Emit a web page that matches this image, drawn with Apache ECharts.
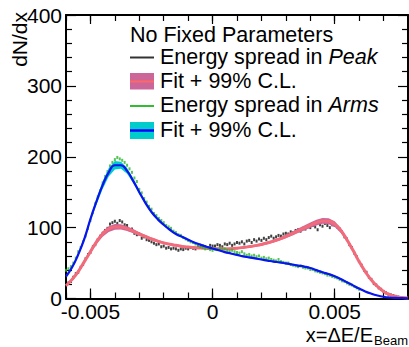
<!DOCTYPE html>
<html>
<head>
<meta charset="utf-8">
<script src="https://cdn.jsdelivr.net/npm/echarts@6/dist/echarts.min.js"></script>
<style>
html,body{margin:0;padding:0;background:#fff;}
#chart{width:409px;height:347px;}
</style>
</head>
<body>
<div id="chart"></div>
<script>
// ---------------- DATA ----------------
const xMin = -0.006, xMax = 0.008;
const xMajorTicks = [-0.005, 0, 0.005];
const xTickLabels = ['-0.005', '0', '0.005'];
const yTickLabels = ['0', '100', '200', '300', '400'];

// histogram bins (bin width 0.0001)
const binStart = -0.006;
const binWidth = 0.0001;

// Energy spread in Peak (black points), from x = -0.0060 to 0.0076
const peakCounts = [
  19, 22, 24, 30, 35, 37, 44, 48, 56, 62, 65, 73, 76,
  83, 88, 92, 96, 99,
  105, 107, 109, 106, 110, 108, 104, 103,
  97, 98, 92, 90, 91, 85, 87, 83, 82,
  80, 78, 76, 77, 73, 74, 71, 72, 70, 71, 70, 68, 70, 69, 71,
  70, 72, 71, 70, 73, 72, 74, 73, 72, 75, 74,
  74, 76, 75, 73, 77, 76, 78, 75, 77, 79,
  78, 80, 77, 81, 82, 79, 83, 81, 84, 82,
  85, 83, 86, 88, 85, 87, 89, 88, 91, 92,
  91, 94, 93, 96, 97, 95, 99, 98, 101, 100,
  103, 101, 97, 104, 102, 106, 103, 100, 104,
  103, 101, 98, 94, 87, 84, 76, 72, 64, 59, 52,
  47, 40, 37, 30, 27, 21, 19, 15, 13, 10,
  8, 6, 5, 4, 3, 2
];

// Energy spread in Arms (green points), from x = -0.0060 to 0.0060
const armsCounts = [
  40, 42, 45, 50, 57, 66, 72, 80, 88, 99,
  110, 121, 134, 143, 152, 163, 172, 179, 187, 192,
  196, 199, 197, 195, 192, 188, 183, 178, 170, 165,
  154, 149, 141, 136, 130, 126, 120, 117, 113, 110,
  107, 103, 101, 99, 95, 93, 90, 89, 86, 84,
  82, 80, 79, 77, 75, 73, 72, 70, 71, 69,
  68, 70, 69, 71, 69, 70, 68, 67, 68, 66,
  65, 64, 66, 63, 61, 62, 60, 61, 59, 60,
  57, 58, 56, 57, 55, 54, 53, 55, 52, 51,
  50, 50, 48, 47, 46, 45, 46, 44, 43, 43,
  41, 41, 39, 38, 37, 36, 35, 33, 33, 31,
  30, 29, 27, 25, 24, 22, 20, 19, 17, 15, 13
];

// fit curves sampled at these x values
const fitX = [
  -0.006, -0.00575, -0.0055, -0.00525, -0.005, -0.00475, -0.0045, -0.00425, -0.004, -0.00375,
  -0.0035, -0.00325, -0.003, -0.00275, -0.0025, -0.00225, -0.002, -0.00175, -0.0015, -0.00125,
  -0.001, -0.00075, -0.0005, -0.00025, 0, 0.00025, 0.0005, 0.00075, 0.001, 0.00125,
  0.0015, 0.00175, 0.002, 0.00225, 0.0025, 0.00275, 0.003, 0.00325, 0.0035, 0.00375,
  0.004, 0.00425, 0.0045, 0.00475, 0.005, 0.00525, 0.0055, 0.00575, 0.006, 0.00625,
  0.0065, 0.00675, 0.007, 0.00725, 0.0075, 0.00775, 0.008
];
const peakFit = [
  18, 27, 38, 52, 66, 80, 91, 98, 101, 101,
  98.5, 95, 91, 87.5, 84, 81, 78.5, 76.5, 75, 73.5,
  72.5, 71.8, 71.2, 70.8, 70.5, 70.2, 70, 70.3, 71, 72,
  73.2, 74.6, 76.3, 78.5, 81, 84, 87.5, 91.5, 95.5, 99.5,
  103.5, 107, 109.5, 109, 105, 96, 83, 68, 52, 38,
  26, 17, 10, 5.5, 2.8, 1.3, 0.6
];
// half width of the 99% C.L. band around the peak fit
const peakCL = [
  1.5, 1.8, 2.2, 2.6, 3, 3.4, 3.8, 4, 4, 3.8,
  3.4, 3, 2.6, 2.2, 2, 1.8, 1.6, 1.5, 1.4, 1.4,
  1.3, 1.3, 1.3, 1.3, 1.3, 1.3, 1.3, 1.3, 1.4, 1.4,
  1.5, 1.6, 1.7, 1.8, 2, 2.2, 2.5, 2.8, 3.1, 3.4,
  3.7, 4, 4.2, 4.2, 4, 3.6, 3.2, 2.8, 2.4, 2,
  1.6, 1.2, 0.9, 0.6, 0.4, 0.3, 0.2
];
const armsFit = [
  31, 44, 62, 84, 112, 137, 160, 178, 188, 188,
  180, 166, 150, 135, 122, 112, 104, 97, 91, 87,
  83, 79, 76, 73, 70.5, 68, 65.5, 63.5, 61.5, 59.5,
  58, 56.5, 55, 53.5, 52, 51, 49.5, 48, 46.5, 45,
  43, 40, 37, 34.5, 31.5, 27.5, 23, 18.5, 14, 10,
  6.8, 4.3, 2.5, 1.4, 0.8, 0.4, 0.2
];
// half width of the 99% C.L. band around the arms fit
const armsCL = [
  1.5, 2, 2.5, 3, 3.5, 4.5, 5.5, 6, 6, 5,
  4, 3.2, 2.6, 2.2, 1.9, 1.7, 1.5, 1.4, 1.3, 1.2,
  1.2, 1.1, 1.1, 1.1, 1.1, 1.1, 1.1, 1.1, 1.1, 1.1,
  1.1, 1.1, 1.1, 1.1, 1.1, 1.1, 1.1, 1.1, 1.1, 1.1,
  1.1, 1.1, 1.1, 1.1, 1.1, 1, 1, 0.9, 0.8, 0.7,
  0.6, 0.5, 0.4, 0.3, 0.2, 0.1, 0.1
];

// ---------------- BUILD ----------------
const FONT = '"Liberation Sans", Arial, Helvetica, sans-serif';
const pts = (arr) => arr.map((v, i) => [+(binStart + i * binWidth).toFixed(5), v]);
const curve = (arr) => fitX.map((x, i) => [x, arr[i]]);

function bandSeries(fit, cl, color, z) {
  return {
    type: 'custom', z: z, silent: true,
    data: [[0, 0]],
    renderItem: function (params, api) {
      const up = fitX.map((x, i) => api.coord([x, fit[i] + cl[i]]));
      const lo = fitX.map((x, i) => api.coord([x, Math.max(0, fit[i] - cl[i])])).reverse();
      return {type: 'polygon', shape: {points: up.concat(lo)}, style: {fill: color}};
    }
  };
}

const chart = echarts.init(document.getElementById('chart'), null, {renderer: 'svg'});

const xLabelFmt = (v) => {
  for (let i = 0; i < xMajorTicks.length; i++) {
    if (Math.abs(v - xMajorTicks[i]) < 1e-9) return xTickLabels[i];
  }
  return '';
};

const frameLine = {show: true, onZero: false, lineStyle: {color: '#000', width: 2}};
const xCommon = {type: 'value', min: xMin, max: xMax, splitLine: {show: false}};
const TF = 21.5;

const option = {
  animation: false,
  backgroundColor: '#fff',
  grid: {left: 66, right: 1, top: 15, bottom: 48.5, containLabel: false},
  xAxis: [
    Object.assign({}, xCommon, {
      position: 'bottom', interval: 0.001,
      axisLine: frameLine,
      axisTick: {inside: true, length: 6, lineStyle: {color: '#000', width: 1.2}},
      axisLabel: {customValues: xMajorTicks, formatter: xLabelFmt, fontSize: 21, fontFamily: FONT, color: '#000', margin: 2}
    }),
    Object.assign({}, xCommon, {
      position: 'bottom',
      axisLine: {show: false, onZero: false},
      axisTick: {inside: true, length: 10, customValues: xMajorTicks, lineStyle: {color: '#000', width: 1.2}},
      axisLabel: {show: false}
    }),
    Object.assign({}, xCommon, {
      position: 'top', interval: 0.001,
      axisLine: frameLine,
      axisTick: {inside: true, length: 6, lineStyle: {color: '#000', width: 1.2}},
      axisLabel: {show: false}
    }),
    Object.assign({}, xCommon, {
      position: 'top',
      axisLine: {show: false, onZero: false},
      axisTick: {inside: true, length: 9, customValues: xMajorTicks, lineStyle: {color: '#000', width: 1.2}},
      axisLabel: {show: false}
    })
  ],
  yAxis: [
    {
      type: 'value', min: 0, max: 400, interval: 100, position: 'left',
      axisLine: frameLine,
      axisTick: {inside: true, length: 10, lineStyle: {color: '#000', width: 1.2}},
      minorTick: {show: true, splitNumber: 5, length: 6, lineStyle: {color: '#000', width: 1.2}},
      axisLabel: {fontSize: 21, fontFamily: FONT, color: '#000', margin: 4,
        formatter: (v) => yTickLabels[Math.round(v / 100)]},
      splitLine: {show: false}, minorSplitLine: {show: false}
    },
    {
      type: 'value', min: 0, max: 400, interval: 100, position: 'right',
      axisLine: frameLine,
      axisTick: {inside: true, length: 10, lineStyle: {color: '#000', width: 1.2}},
      minorTick: {show: true, splitNumber: 5, length: 6, lineStyle: {color: '#000', width: 1.2}},
      axisLabel: {show: false},
      splitLine: {show: false}, minorSplitLine: {show: false}
    }
  ],
  series: [
    {
      name: 'Energy spread in Peak', type: 'scatter', data: pts(peakCounts),
      symbol: 'rect', symbolSize: [2, 3], itemStyle: {color: '#111'}, silent: true, z: 2
    },
    bandSeries(peakFit, peakCL, '#cc6699', 3),
    {
      name: 'Peak fit', type: 'line', data: curve(peakFit), smooth: true,
      symbol: 'none', lineStyle: {color: '#f26b7a', width: 3}, silent: true, z: 4
    },
    {
      name: 'Energy spread in Arms', type: 'scatter', data: pts(armsCounts),
      symbol: 'rect', symbolSize: [2, 3], itemStyle: {color: '#2cb52c'}, silent: true, z: 5
    },
    bandSeries(armsFit, armsCL, '#00cccc', 6),
    {
      name: 'Arms fit', type: 'line', data: curve(armsFit), smooth: true,
      symbol: 'none', lineStyle: {color: '#0a14ee', width: 2.2}, silent: true, z: 7
    }
  ],
  graphic: [
    {type: 'text', x: 19, y: 12, rotation: Math.PI / 2,
      style: {text: 'dN/dx', font: '21px ' + FONT, fill: '#000', align: 'right', verticalAlign: 'middle'}},
    {type: 'text', x: 373, y: 335,
      style: {text: 'x=ΔE/E', font: '20px ' + FONT, fill: '#000', align: 'right', verticalAlign: 'middle'}},
    {type: 'text', x: 374, y: 340,
      style: {text: 'Beam', font: '13px ' + FONT, fill: '#000', align: 'left', verticalAlign: 'middle'}},

    {type: 'text', x: 130, y: 35,
      style: {text: 'No Fixed Parameters', font: TF + 'px ' + FONT, fill: '#000', align: 'left', verticalAlign: 'middle'}},

    {type: 'line', shape: {x1: 130, y1: 57.5, x2: 154, y2: 57.5}, style: {stroke: '#333', lineWidth: 2}},
    {type: 'text', x: 160, y: 57,
      style: {text: 'Energy spread in {i|Peak}', font: TF + 'px ' + FONT, fill: '#000', align: 'left', verticalAlign: 'middle',
        rich: {i: {fontStyle: 'italic', fontSize: TF, fontFamily: FONT, fill: '#000'}}}},

    {type: 'rect', shape: {x: 130, y: 73, width: 24, height: 16.5}, style: {fill: '#cc6699'}},
    {type: 'line', shape: {x1: 130, y1: 81.5, x2: 154, y2: 81.5}, style: {stroke: '#ff6666', lineWidth: 2}},
    {type: 'text', x: 160, y: 81,
      style: {text: 'Fit + 99% C.L.', font: TF + 'px ' + FONT, fill: '#000', align: 'left', verticalAlign: 'middle'}},

    {type: 'line', shape: {x1: 130, y1: 106, x2: 154, y2: 106}, style: {stroke: '#33bb33', lineWidth: 2}},
    {type: 'text', x: 160, y: 105,
      style: {text: 'Energy spread in {i|Arms}', font: TF + 'px ' + FONT, fill: '#000', align: 'left', verticalAlign: 'middle',
        rich: {i: {fontStyle: 'italic', fontSize: TF, fontFamily: FONT, fill: '#000'}}}},

    {type: 'rect', shape: {x: 130, y: 122, width: 24, height: 17}, style: {fill: '#00cccc'}},
    {type: 'line', shape: {x1: 130, y1: 130.5, x2: 154, y2: 130.5}, style: {stroke: '#0000ff', lineWidth: 2.5}},
    {type: 'text', x: 160, y: 130,
      style: {text: 'Fit + 99% C.L.', font: TF + 'px ' + FONT, fill: '#000', align: 'left', verticalAlign: 'middle'}}
  ]
};

chart.setOption(option);
</script>
</body>
</html>
